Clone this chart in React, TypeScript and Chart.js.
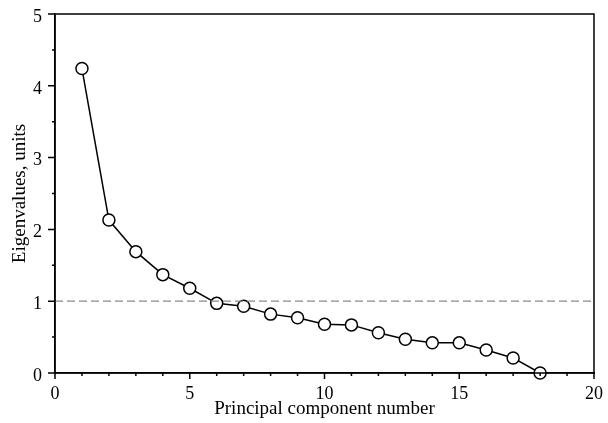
import React, { useEffect, useRef } from "react";
import { Chart, registerables } from "chart.js";

Chart.register(...registerables);

const components = [1, 2, 3, 4, 5, 6, 7, 8, 9, 10, 11, 12, 13, 14, 15, 16, 17, 18];
const eigenvalues = [4.24, 2.13, 1.69, 1.37, 1.18, 0.97, 0.93, 0.82, 0.77, 0.68, 0.67, 0.56, 0.47, 0.42, 0.42, 0.32, 0.21, 0.0];
const thresholdX = [0, 20];
const thresholdY = [1, 1];

const FONT = "'Liberation Serif', 'Times New Roman', serif";

const framePlugin = {
  id: "frame",
  afterDraw(chart: any) {
    const { ctx, chartArea, scales } = chart;
    ctx.save();
    ctx.strokeStyle = "#000";
    ctx.lineWidth = 1.5;
    ctx.strokeRect(chartArea.left, chartArea.top, chartArea.right - chartArea.left, chartArea.bottom - chartArea.top);
    ctx.beginPath();
    scales.x.ticks.forEach((t: any) => {
      const px = scales.x.getPixelForValue(t.value);
      const len = t.value % 5 === 0 ? 6 : 3;
      ctx.moveTo(px, chartArea.bottom);
      ctx.lineTo(px, chartArea.bottom + len);
    });
    scales.y.ticks.forEach((t: any) => {
      const py = scales.y.getPixelForValue(t.value);
      const len = Number.isInteger(t.value) ? 7 : 3;
      ctx.moveTo(chartArea.left, py);
      ctx.lineTo(chartArea.left - len, py);
    });
    ctx.stroke();
    ctx.restore();
  },
};

export default function App() {
  const ref = useRef<HTMLCanvasElement>(null);
  useEffect(() => {
    document.body.style.margin = "0";
    const chart = new Chart(ref.current!, {
      type: "scatter",
      data: {
        datasets: [
          {
            data: thresholdX.map((x, i) => ({ x, y: thresholdY[i] })),
            showLine: true,
            borderColor: "#8a8a8a",
            borderWidth: 1.3,
            borderDash: [8, 4],
            pointRadius: 0,
          },
          {
            data: components.map((x, i) => ({ x, y: eigenvalues[i] })),
            showLine: true,
            borderColor: "#000",
            borderWidth: 1.5,
            pointRadius: 6,
            pointBackgroundColor: "#fff",
            pointBorderColor: "#000",
            pointBorderWidth: 1.5,
          },
        ],
      },
      options: {
        animation: false,
        responsive: false,
        clip: false as any,
        layout: { padding: { top: 14, right: 14, left: 0, bottom: 0 } },
        plugins: { legend: { display: false }, tooltip: { enabled: false } },
        scales: {
          x: {
            type: "linear",
            min: 0,
            max: 20,
            border: { color: "#000", width: 1.5 },
            grid: { display: false, drawTicks: true, tickLength: 6 },
            ticks: {
              stepSize: 1,
              autoSkip: false,
              maxRotation: 0,
              color: "#000",
              font: { family: FONT, size: 18 },
              padding: 4,
              callback: (v: any) => (v % 5 === 0 ? String(v) : ""),
            },
            title: {
              display: true,
              text: "Principal component number",
              color: "#000",
              font: { family: FONT, size: 19 },
              padding: { top: 3, bottom: 3 },
            },
            afterFit: (axis: any) => {
              axis.height = 50;
              axis.paddingLeft = 0;
              axis.paddingRight = 0;
            },
          },
          y: {
            type: "linear",
            min: 0,
            max: 5,
            border: { color: "#000", width: 1.5 },
            grid: { display: false, drawTicks: true, tickLength: 7 },
            ticks: {
              stepSize: 0.5,
              autoSkip: false,
              color: "#000",
              font: { family: FONT, size: 18 },
              padding: 6,
              labelOffset: 3,
              callback: (v: any) => (Number.isInteger(v) ? String(v) : ""),
            },
            title: {
              display: true,
              text: "Eigenvalues, units",
              color: "#000",
              font: { family: FONT, size: 19 },
              padding: { top: 9, bottom: 9 },
            },
            afterFit: (axis: any) => {
              axis.width = 55;
              axis.paddingTop = 0;
              axis.paddingBottom = 0;
            },
          },
        },
      },
      plugins: [framePlugin],
    });
    return () => chart.destroy();
  }, []);
  return (
    <div style={{ width: 608, height: 423, background: "#fff" }}>
      <canvas ref={ref} width={608} height={423} />
    </div>
  );
}
